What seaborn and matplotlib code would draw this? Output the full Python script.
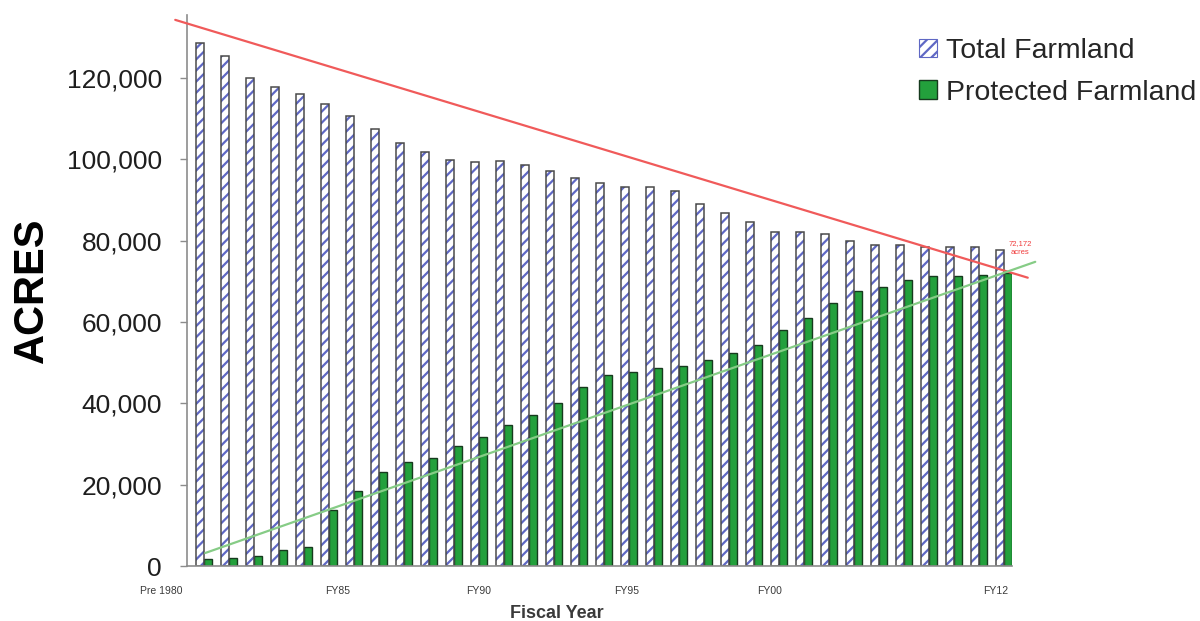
import matplotlib
matplotlib.use("Agg")
import matplotlib.pyplot as plt
from matplotlib.patches import Patch, Rectangle
from matplotlib.ticker import FuncFormatter
import seaborn as sns
import pandas as pd

# ---- data -------------------------------------------------------------
years = ["Pre 1980", "FY81", "FY82", "FY83", "FY84", "FY85", "FY86", "FY87",
         "FY88", "FY89", "FY90", "FY91", "FY92", "FY93", "FY94", "FY95",
         "FY96", "FY97", "FY98", "FY99", "FY00", "FY01", "FY02", "FY03",
         "FY04", "FY05", "FY06", "FY07", "FY08", "FY09", "FY10", "FY11",
         "FY12"]
total_farmland = [128600, 125300, 120100, 117800, 116100, 113600, 110700,
                  107500, 104000, 101800, 99900, 99300, 99700, 98500, 97200,
                  95500, 94300, 93200, 93200, 92300, 89000, 86700, 84700,
                  82200, 82200, 81700, 79900, 79000, 79000, 78500, 78500,
                  78500, 77700]
protected_farmland = [1650, 1970, 2380, 3860, 4750, 13800, 18450, 23200,
                      25600, 26500, 29600, 31800, 34700, 37200, 40200, 44100,
                      47000, 47800, 48600, 49300, 50700, 52300, 54300, 58100,
                      60900, 64700, 67700, 68600, 70400, 71300, 71300, 71600,
                      72172]
series_names = ["Total Farmland", "Protected Farmland"]

# hand-drawn trend lines (category position, acres)
total_trend_x = [-1.15, 32.95]
total_trend_y = [134300, 70900]
protected_trend_x = [0.05, 33.25]
protected_trend_y = [3200, 74800]

# sparse axis labels and where they sit along the category axis
tick_labels = ["Pre 1980", "FY85", "FY90", "FY95", "FY00", "FY12"]
tick_label_pos = [-1.72, 5.36, 11.0, 16.92, 22.64, 31.68]

# ---- styling ----------------------------------------------------------
sns.set_theme(style="white")
plt.rcParams["font.family"] = ["Liberation Sans", "DejaVu Sans"]
plt.rcParams["hatch.linewidth"] = 1.6

hatch_blue = "#5f68c4"
green = "#23a03c"
edge_gray = "#4a4a4a"
spine_gray = "#8c8c8c"

df = pd.DataFrame({
    "year": years * 2,
    "acres": total_farmland + protected_farmland,
    "series": [series_names[0]] * len(years) + [series_names[1]] * len(years),
})

fig = plt.figure(figsize=(12, 6.21), dpi=100)
ax = fig.add_axes([187 / 1200, 55 / 621, 825 / 1200, 551 / 621])

sns.barplot(data=df, x="year", y="acres", hue="series", order=years,
            hue_order=series_names, palette=["white", green], width=0.64,
            dodge=True, legend=False, errorbar=None, saturation=1, ax=ax)

# style the two bar containers
tot_c, prot_c = ax.containers[0], ax.containers[1]
for p in tot_c.patches:
    p.set_facecolor("white")
    p.set_hatch("///")
    p.set_edgecolor(hatch_blue)
    p.set_linewidth(0)
    ax.add_patch(Rectangle((p.get_x(), p.get_y()), p.get_width(),
                           p.get_height(), fill=False, edgecolor=edge_gray,
                           linewidth=1.1, zorder=p.get_zorder() + 0.1))
for p in prot_c.patches:
    p.set_facecolor(green)
    p.set_edgecolor("#163a1e")
    p.set_linewidth(1.0)

# trend lines
ax.plot(total_trend_x, total_trend_y, color="#f05a5a", lw=1.6,
        clip_on=False, zorder=5)
ax.plot(protected_trend_x, protected_trend_y, color="#86cc86", lw=1.6,
        clip_on=False, zorder=5)

# value callout on the last protected bar
ax.text(32.64, 78200, f"{protected_farmland[-1]:,}\nacres", color="#f03c3c",
        fontsize=5.5, ha="center", va="center", linespacing=1.3,
        clip_on=False)

# axes
ax.set_xlim(-0.68, 32.32)
ax.set_ylim(0, 135500)
ax.set_yticks(range(0, 120001, 20000))
ax.yaxis.set_major_formatter(FuncFormatter(lambda v, _: f"{int(v):,}"))
ax.tick_params(axis="y", which="major", left=True, length=5, width=1,
               color=spine_gray, pad=13, labelsize=19, labelcolor="#1e1e1e")
ax.set_xticks([])
ax.set_xlabel("")
ax.set_ylabel("ACRES", fontsize=30, fontweight="bold", color="black")
ax.yaxis.set_label_coords(-0.164, 0.5)

for lbl, pos in zip(tick_labels, tick_label_pos):
    ax.text(pos, -0.045, lbl, transform=ax.get_xaxis_transform(),
            ha="center", va="center", fontsize=7.5, color="#3a3a3a",
            clip_on=False)
ax.text(0.448, -0.087, "Fiscal Year", transform=ax.transAxes, ha="center",
        va="center", fontsize=13, fontweight="bold", color="#3a3a3a")

for side in ["top", "right"]:
    ax.spines[side].set_visible(False)
for side in ["left", "bottom"]:
    ax.spines[side].set_color(spine_gray)
    ax.spines[side].set_linewidth(1.2)

# legend
handles = [Patch(facecolor="white", edgecolor=hatch_blue, hatch="///",
                 linewidth=0.8),
           Patch(facecolor=green, edgecolor="#163a1e", linewidth=1.0)]
fig.legend(handles, series_names, loc="upper left",
           bbox_to_anchor=(919 / 1200, 1 - 38 / 621), frameon=False,
           fontsize=20.5, handlelength=0.62, handleheight=0.62,
           handletextpad=0.32, labelspacing=0.55, borderpad=0,
           borderaxespad=0)

fig.savefig("out.png", dpi=100)
